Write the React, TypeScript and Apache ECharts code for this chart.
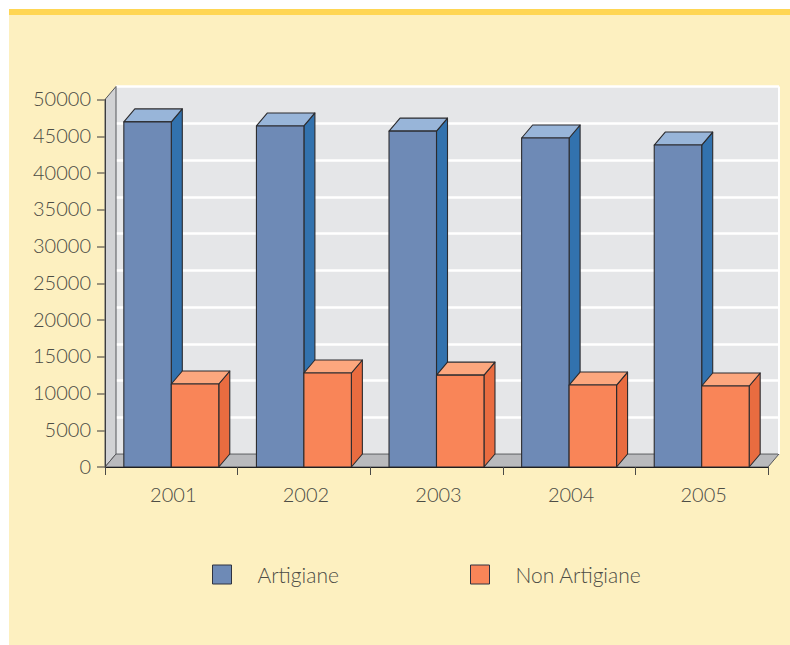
import React, { useEffect, useRef } from "react";
import * as echarts from "echarts";

const years = ["2001", "2002", "2003", "2004", "2005"];
const artigiane = [46950, 46400, 45700, 44760, 43800];
const nonArtigiane = [11290, 12790, 12500, 11150, 11020];

const FONT = "Lato, 'Open Sans', sans-serif";
const TEXT = "#4c4c45";
const DX = 11;
const DY = 13;
const STROKE = "#2b2b2e";

function barRenderer(side: number, front: string, top: string, right: string) {
  return (_p: any, api: any) => {
    const idx = api.value(0);
    const pt = api.coord([idx, api.value(1)]);
    const base = api.coord([idx, 0]);
    const w = api.size([1, 0])[0] * 0.358;
    const x0 = side < 0 ? pt[0] - w : pt[0];
    const x1 = x0 + w;
    const y0 = pt[1];
    const y1 = base[1];
    const st = (fill: string) => ({ fill, stroke: STROKE, lineWidth: 1.1, lineJoin: "round" });
    return {
      type: "group",
      children: [
        { type: "polygon", shape: { points: [[x1, y0], [x1 + DX, y0 - DY], [x1 + DX, y1 - DY], [x1, y1]] }, style: st(right) },
        { type: "polygon", shape: { points: [[x0, y0], [x0 + DX, y0 - DY], [x1 + DX, y0 - DY], [x1, y0]] }, style: st(top) },
        { type: "rect", shape: { x: x0, y: y0, width: w, height: y1 - y0 }, style: st(front) },
      ],
    };
  };
}

function wallsRenderer(params: any) {
  const { x, y, width, height } = params.coordSys;
  const b = y + height;
  const r = x + width;
  const edge = { stroke: "#55565a", lineWidth: 1 };
  return {
    type: "group",
    children: [
      { type: "polygon", shape: { points: [[x, b], [x, y], [x + DX, y - DY], [x + DX, b - DY]] }, style: { fill: "#d1d2d4", ...edge } },
      { type: "polygon", shape: { points: [[x, b], [x + DX, b - DY], [r + DX, b - DY], [r, b]] }, style: { fill: "#b9babd", ...edge } },
      { type: "line", shape: { x1: r + DX, y1: y - DY, x2: r + DX, y2: b - DY }, style: { stroke: "#ffffff", lineWidth: 2 } },
    ],
  };
}

const legendBase = {
  top: 564,
  padding: 0,
  itemWidth: 19,
  itemHeight: 19,
  icon: "rect",
  itemStyle: { borderColor: "#2f3340", borderWidth: 1 },
  textStyle: { color: TEXT, fontFamily: FONT, fontWeight: 300, fontSize: 21, padding: [0, 0, 0, 21] },
};

export default function App() {
  const ref = useRef<HTMLDivElement>(null);
  useEffect(() => {
    document.body.style.margin = "0";
    const chart = echarts.init(ref.current!, undefined, { renderer: "svg" });
    chart.setOption({
      animation: false,
      backgroundColor: "transparent",
      grid: [
        { left: 105, top: 99.5, width: 663, height: 367.5 },
        {
          left: 105 + DX, top: 99.5 - DY, width: 663, height: 367.5,
          show: true, backgroundColor: "#e5e6e8", borderWidth: 0,
        },
      ],
      xAxis: [
        {
          type: "category", data: years, gridIndex: 0,
          axisLine: { lineStyle: { color: "#1f1f1f", width: 1.2 } },
          axisTick: { show: true, length: 8, lineStyle: { color: "#4a4a46", width: 1 } },
          axisLabel: { color: TEXT, fontFamily: FONT, fontWeight: 300, fontSize: 20, margin: 17, padding: [0, 0, 0, 4] },
          z: 6,
        },
        { type: "category", data: years, gridIndex: 1, show: false },
      ],
      yAxis: [
        {
          type: "value", min: 0, max: 50000, interval: 5000, gridIndex: 0,
          axisLine: { show: true, onZero: false, lineStyle: { color: "#3c3d40" } },
          axisTick: { show: true, length: 8, lineStyle: { color: "#7a7565", width: 1.5 } },
          splitLine: { show: false },
          axisLabel: {
            color: TEXT, fontFamily: FONT, fontWeight: 300, fontSize: 20, margin: 14,
            verticalAlign: "bottom", lineHeight: 3,
            formatter: (v: number) => String(v),
          },
          z: 6,
        },
        {
          type: "value", min: 0, max: 50000, interval: 5000, gridIndex: 1,
          axisLine: { show: false }, axisTick: { show: false }, axisLabel: { show: false },
          splitLine: { show: true, lineStyle: { color: "#ffffff", width: 2.5 } },
        },
      ],
      legend: [
        { ...legendBase, data: ["Artigiane"], left: 212 },
        { ...legendBase, data: ["Non Artigiane"], left: 470 },
      ],
      series: [
        {
          name: "walls", type: "custom", coordinateSystem: "cartesian2d", xAxisIndex: 0, yAxisIndex: 0,
          data: [[0, 0]], renderItem: wallsRenderer, silent: true, z: 1,
        },
        {
          name: "Artigiane", type: "custom", xAxisIndex: 0, yAxisIndex: 0, z: 2,
          data: artigiane.map((v, i) => [i, v]), encode: { x: 0, y: 1 },
          itemStyle: { color: "#6e8ab6" },
          renderItem: barRenderer(-1, "#6e8ab6", "#98b5d9", "#3272ae"),
        },
        {
          name: "Non Artigiane", type: "custom", xAxisIndex: 0, yAxisIndex: 0, z: 3,
          data: nonArtigiane.map((v, i) => [i, v]), encode: { x: 0, y: 1 },
          itemStyle: { color: "#f98558" },
          renderItem: barRenderer(1, "#f98558", "#fca77e", "#e96c40"),
        },
      ],
    });
    return () => chart.dispose();
  }, []);
  return (
    <div style={{ position: "absolute", left: 0, top: 0, width: 790, height: 645, background: "#ffffff", overflow: "hidden" }}>
      <div style={{ position: "absolute", left: 9, top: 9, width: 781, height: 636, background: "#fdf0c0" }} />
      <div style={{ position: "absolute", left: 9, top: 9, width: 781, height: 6, background: "#ffd654" }} />
      <div ref={ref} style={{ position: "absolute", left: 0, top: 0, width: 790, height: 645 }} />
    </div>
  );
}
